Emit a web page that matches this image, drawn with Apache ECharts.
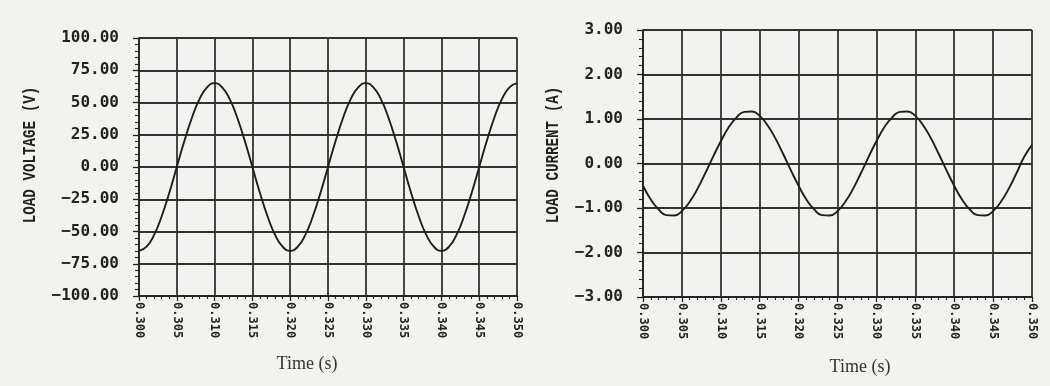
<!DOCTYPE html>
<html>
<head>
<meta charset="utf-8">
<script src="https://cdn.jsdelivr.net/npm/echarts@6/dist/echarts.min.js"></script>
<style>
html,body{margin:0;padding:0;background:#f2f2f0;}
#c{width:1050px;height:386px;}
</style>
</head>
<body>
<div id="c"></div>
<script>
// Time samples (s)
var time = [0.300,0.301,0.302,0.303,0.304,0.305,0.306,0.307,0.308,0.309,
            0.310,0.311,0.312,0.313,0.314,0.315,0.316,0.317,0.318,0.319,
            0.320,0.321,0.322,0.323,0.324,0.325,0.326,0.327,0.328,0.329,
            0.330,0.331,0.332,0.333,0.334,0.335,0.336,0.337,0.338,0.339,
            0.340,0.341,0.342,0.343,0.344,0.345,0.346,0.347,0.348,0.349,0.350];
// Load voltage (V)
var voltage = [-65,-61.8,-52.6,-38.2,-20.1,0,20.1,38.2,52.6,61.8,
               65,61.8,52.6,38.2,20.1,0,-20.1,-38.2,-52.6,-61.8,
               -65,-61.8,-52.6,-38.2,-20.1,0,20.1,38.2,52.6,61.8,
               65,61.8,52.6,38.2,20.1,0,-20.1,-38.2,-52.6,-61.8,
               -65,-61.8,-52.6,-38.2,-20.1,0,20.1,38.2,52.6,61.8,65];
// Load current (A)
var current = [-0.50,-0.81,-1.03,-1.16,-1.17,-1.07,-0.86,-0.57,-0.22,0.15,
               0.50,0.81,1.03,1.16,1.17,1.07,0.86,0.57,0.22,-0.15,
               -0.50,-0.81,-1.03,-1.16,-1.17,-1.07,-0.86,-0.57,-0.22,0.15,
               0.50,0.81,1.03,1.16,1.17,1.07,0.86,0.57,0.22,-0.15,
               -0.50,-0.81,-1.03,-1.16,-1.17,-1.07,-0.86,-0.57,-0.22,0.15,0.42];
var voltageTicks = {min:-100, max:100, interval:25};
var currentTicks = {min:-3, max:3, interval:1};
var timeTicks = {min:0.300, max:0.350, interval:0.005};

function pairs(xs, ys){ return xs.map(function(x,i){ return [x, ys[i]]; }); }

var ink = '#222';
var gridLine = {show:true, lineStyle:{color:'#333', width:1.8}};
function xAxis(gi){
  return {
    type:'value', gridIndex:gi, min:timeTicks.min, max:timeTicks.max, interval:timeTicks.interval,
    axisLine:{show:true, onZero:false, lineStyle:{color:ink, width:1.6}},
    axisTick:{show:true, length:5, lineStyle:{color:ink, width:1.3}},
    minorTick:{show:true, splitNumber:5, length:3, lineStyle:{color:ink, width:1.1}},
    splitLine:gridLine,
    axisLabel:{rotate:-90, margin:6, color:ink, fontFamily:'DejaVu Sans Mono', fontWeight:'bold', fontSize:12,
      formatter:function(v){ return v.toFixed(3); }}
  };
}
function yAxis(gi, t){
  return {
    type:'value', gridIndex:gi, min:t.min, max:t.max, interval:t.interval,
    axisLine:{show:true, onZero:false, lineStyle:{color:ink, width:1.6}},
    axisTick:{show:true, length:6, lineStyle:{color:ink, width:1.3}},
    minorTick:{show:true, splitNumber:5, length:4, lineStyle:{color:ink, width:1.1}},
    splitLine:gridLine,
    axisLabel:{margin:20, color:ink, fontFamily:'DejaVu Sans Mono', fontWeight:'bold', fontSize:16,
      formatter:function(v){ return v.toFixed(2).replace('-', '\u2212'); }}
  };
}

var chart = echarts.init(document.getElementById('c'), null, {renderer:'canvas'});
chart.setOption({
  backgroundColor:'#f2f2f0',
  animation:false,
  grid:[
    {left:139, right:533, top:38, bottom:90},
    {left:643, right:18, top:30, bottom:89}
  ],
  xAxis:[xAxis(0), xAxis(1)],
  yAxis:[yAxis(0, voltageTicks), yAxis(1, currentTicks)],
  series:[
    {type:'line', xAxisIndex:0, yAxisIndex:0, data:pairs(time, voltage), smooth:0.5, showSymbol:false,
     lineStyle:{color:'#1e1e1e', width:1.9}},
    {type:'line', xAxisIndex:1, yAxisIndex:1, data:pairs(time, current), smooth:0.5, showSymbol:false,
     lineStyle:{color:'#1e1e1e', width:1.9}}
  ],
  graphic:[
    {type:'text', x:30, y:155, rotation:Math.PI/2, scaleX:0.79,
     style:{text:'LOAD VOLTAGE (V)', fill:ink, font:'bold 18px "Liberation Mono"', align:'center', verticalAlign:'middle'}},
    {type:'text', x:553, y:155, rotation:Math.PI/2, scaleX:0.79,
     style:{text:'LOAD CURRENT (A)', fill:ink, font:'bold 18px "Liberation Mono"', align:'center', verticalAlign:'middle'}},
    {type:'text', x:307, y:364,
     style:{text:'Time (s)', fill:'#333', font:'18px "Liberation Serif"', align:'center', verticalAlign:'middle'}},
    {type:'text', x:860, y:367,
     style:{text:'Time (s)', fill:'#333', font:'18px "Liberation Serif"', align:'center', verticalAlign:'middle'}}
  ]
});
</script>
</body>
</html>
